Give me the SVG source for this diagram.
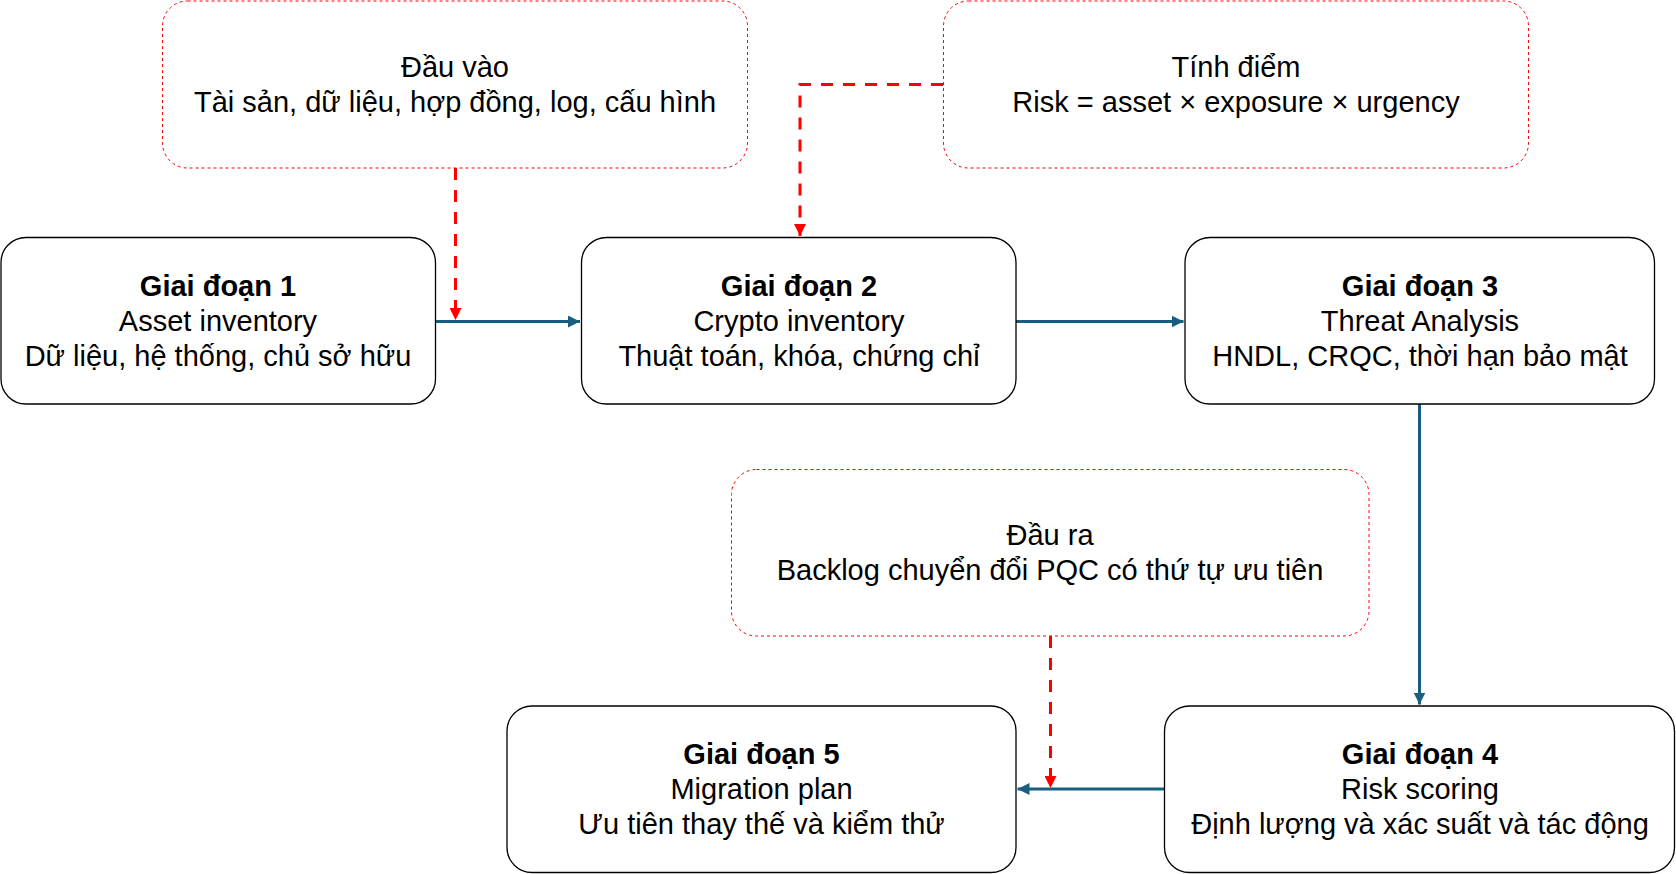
<svg xmlns="http://www.w3.org/2000/svg" width="1676" height="874" viewBox="0 0 1676 874">
<defs>
<style>
.stage{fill:#ffffff;stroke:#000000;stroke-width:1.3}
.note{fill:#ffffff;stroke:#ff0000;stroke-width:1;stroke-dasharray:3 3}
.t{font-family:"Liberation Sans",Arial,sans-serif;font-size:29px;fill:#000000;text-anchor:middle}
.b{font-weight:bold}
.flow{fill:none;stroke:#185E80;stroke-width:3}
.feed{fill:none;stroke:#ff0000;stroke-width:3;stroke-dasharray:12 10}
</style>
<marker id="ah" viewBox="0 0 12 12" refX="12" refY="6" markerWidth="12" markerHeight="12" markerUnits="userSpaceOnUse" orient="auto">
<path d="M0,0 L12,6 L0,12 Z" fill="#185E80"/>
</marker>
<marker id="rh" viewBox="0 0 12 12" refX="12" refY="6" markerWidth="12" markerHeight="12" markerUnits="userSpaceOnUse" orient="auto">
<path d="M0,0 L12,6 L0,12 Z" fill="#ff0000"/>
</marker>
</defs>
<rect width="1676" height="874" fill="#ffffff"/>

<g id="connectors">
<path class="flow" d="M435.5,321.5 H580" marker-end="url(#ah)"/>
<path class="flow" d="M1016,321.5 H1183.5" marker-end="url(#ah)"/>
<path class="flow" d="M1419.5,404 V704.5" marker-end="url(#ah)"/>
<path class="flow" d="M1164.5,789 H1017.5" marker-end="url(#ah)"/>
<path class="feed" d="M455.5,168 V320" marker-end="url(#rh)"/>
<path class="feed" d="M943,84.5 H800 V236" marker-end="url(#rh)"/>
<path class="feed" d="M1050.5,636 V788" marker-end="url(#rh)"/>
</g>

<g id="input">
<rect class="note" x="162.5" y="1" width="585" height="167" rx="25"/>
<text class="t" x="455" y="77">Đầu vào</text>
<text class="t" x="455" y="112">Tài sản, dữ liệu, hợp đồng, log, cấu hình</text>
</g>

<g id="scoring">
<rect class="note" x="943.5" y="1" width="585" height="167" rx="25"/>
<text class="t" x="1236" y="77">Tính điểm</text>
<text class="t" x="1236" y="112">Risk = asset × exposure × urgency</text>
</g>

<g id="output">
<rect class="note" x="731.5" y="469.5" width="637.5" height="166.5" rx="25"/>
<text class="t" x="1050" y="545">Đầu ra</text>
<text class="t" x="1050" y="580">Backlog chuyển đổi PQC có thứ tự ưu tiên</text>
</g>

<g id="stage1">
<rect class="stage" x="1" y="237.5" width="434.5" height="166.5" rx="25"/>
<text class="t b" x="218" y="296">Giai đoạn 1</text>
<text class="t" x="218" y="331">Asset inventory</text>
<text class="t" x="218" y="366">Dữ liệu, hệ thống, chủ sở hữu</text>
</g>

<g id="stage2">
<rect class="stage" x="581.5" y="237.5" width="434.5" height="166.5" rx="25"/>
<text class="t b" x="799" y="296">Giai đoạn 2</text>
<text class="t" x="799" y="331">Crypto inventory</text>
<text class="t" x="799" y="366">Thuật toán, khóa, chứng chỉ</text>
</g>

<g id="stage3">
<rect class="stage" x="1185" y="237.5" width="469.5" height="166.5" rx="25"/>
<text class="t b" x="1420" y="296">Giai đoạn 3</text>
<text class="t" x="1420" y="331">Threat Analysis</text>
<text class="t" x="1420" y="366">HNDL, CRQC, thời hạn bảo mật</text>
</g>

<g id="stage4">
<rect class="stage" x="1164.5" y="706" width="510" height="166.5" rx="25"/>
<text class="t b" x="1420" y="764">Giai đoạn 4</text>
<text class="t" x="1420" y="799">Risk scoring</text>
<text class="t" x="1420" y="834">Định lượng và xác suất và tác động</text>
</g>

<g id="stage5">
<rect class="stage" x="507" y="706" width="509" height="166.5" rx="25"/>
<text class="t b" x="761.5" y="764">Giai đoạn 5</text>
<text class="t" x="761.5" y="799">Migration plan</text>
<text class="t" x="761.5" y="834">Ưu tiên thay thế và kiểm thử</text>
</g>
</svg>
